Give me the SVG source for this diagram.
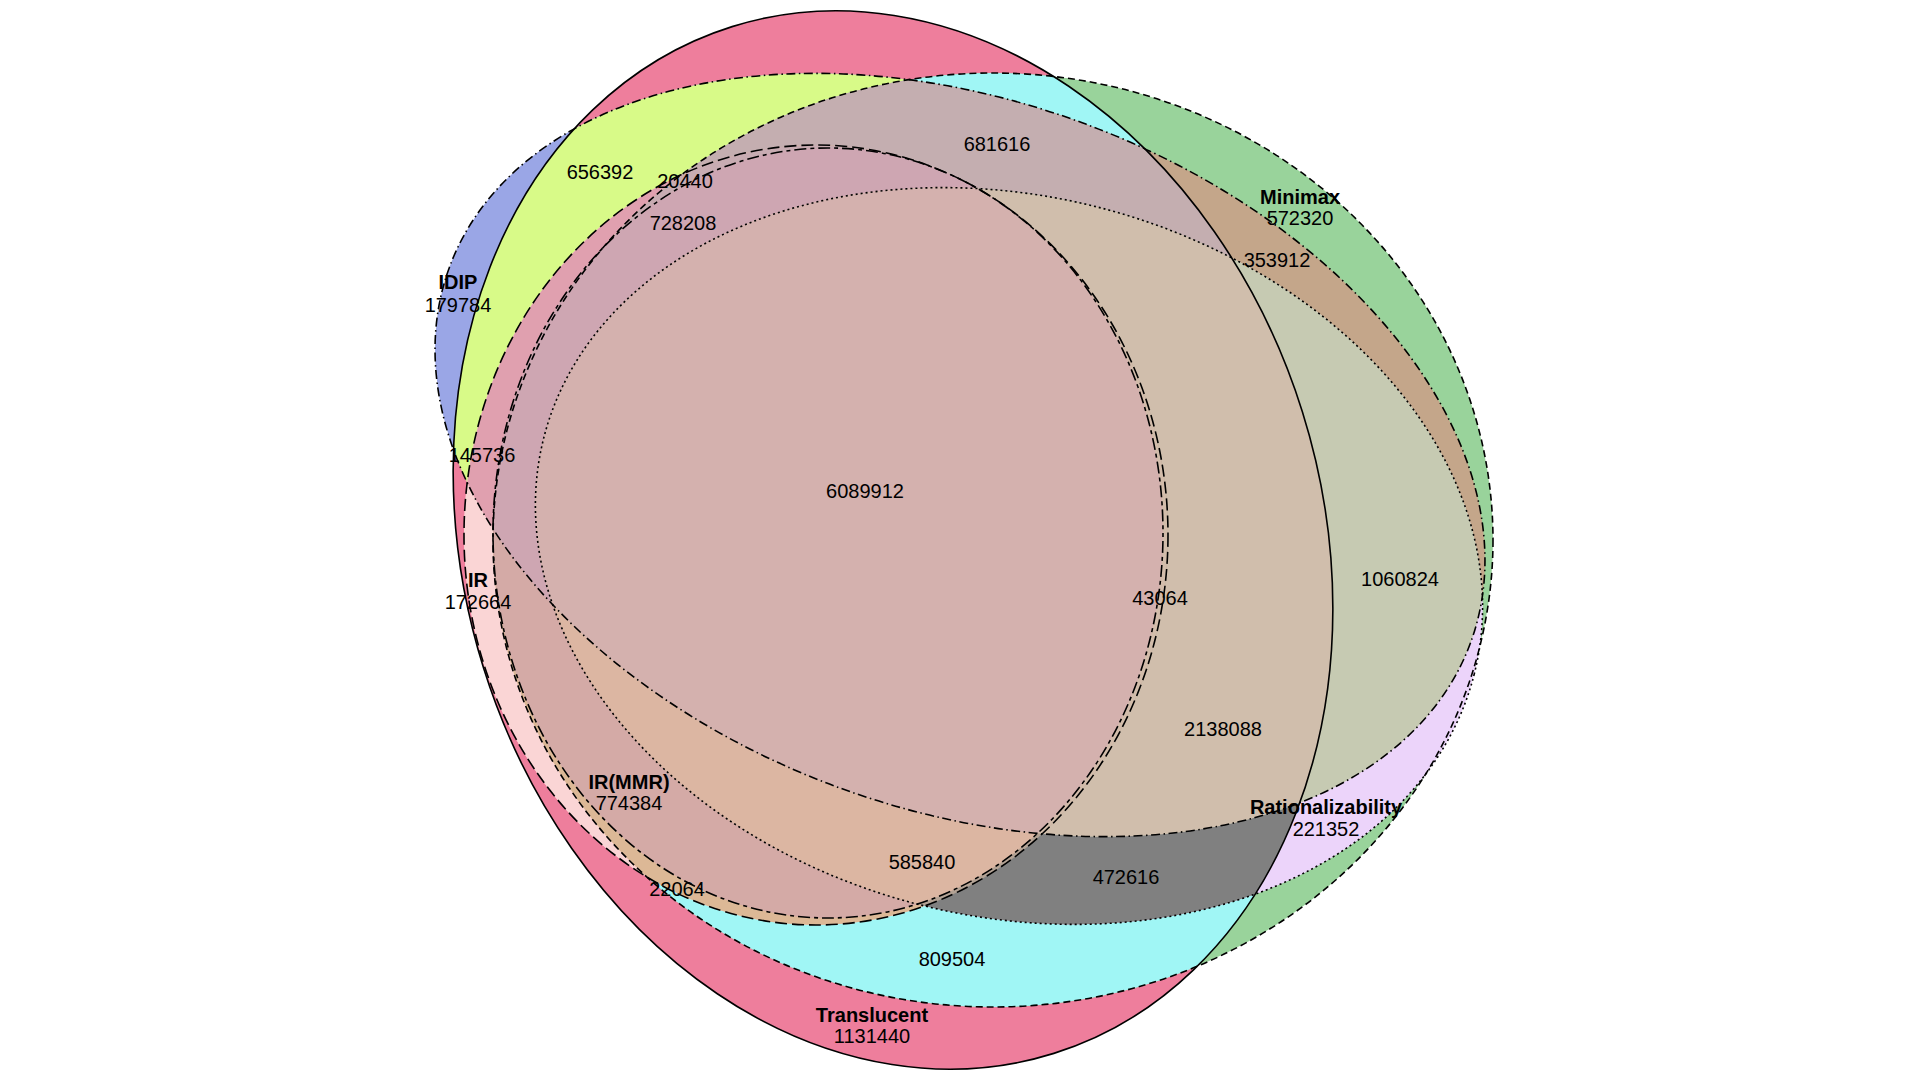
<svg xmlns="http://www.w3.org/2000/svg" width="1920" height="1080" viewBox="0 0 1920 1080">
<defs>
<style>
text{font-family:"Liberation Sans",Arial,sans-serif;font-size:20px;fill:#000;text-anchor:middle}
.b{font-weight:bold}
.o{fill:none;stroke:#000;stroke-width:1.6}
.dP{stroke-dasharray:9 3.5 1.5 3.5}
.dQ{stroke-dasharray:7 4}
.dR{stroke-dasharray:2 3}
.dB{stroke-dasharray:12 5}
.dA{stroke-dasharray:4 4 12 4}
</style>
<clipPath id="cT"><ellipse cx="893" cy="540" rx="429" ry="538" transform="rotate(-17.4 893 540)"/></clipPath>
<clipPath id="cP"><ellipse cx="960" cy="455" rx="544" ry="354" transform="rotate(20.2 960 455)"/></clipPath>
<clipPath id="cQ"><ellipse cx="993" cy="540" rx="500" ry="467"/></clipPath>
<clipPath id="cB"><ellipse cx="816" cy="535" rx="352" ry="390"/></clipPath>
<clipPath id="cA"><ellipse cx="828" cy="533" rx="335" ry="385"/></clipPath>
<clipPath id="cR"><ellipse cx="1009" cy="556" rx="480" ry="360" transform="rotate(14.25 1009 556)"/></clipPath>
<rect id="full" width="1920" height="1080"/>
</defs>
<rect width="1920" height="1080" fill="#ffffff"/>
<g id="regions">
<g clip-path="url(#cT)"><use href="#full" fill="#EE7E9C"/></g>
<g clip-path="url(#cP)"><use href="#full" fill="#9AA6E6"/></g>
<g clip-path="url(#cQ)"><use href="#full" fill="#99D39B"/></g>
<g clip-path="url(#cB)"><use href="#full" fill="#FAD5D5"/></g>
<g clip-path="url(#cR)"><use href="#full" fill="#ECD4FA"/></g>
<g clip-path="url(#cT)"><g clip-path="url(#cP)"><use href="#full" fill="#D8FA88"/></g></g>
<g clip-path="url(#cT)"><g clip-path="url(#cQ)"><use href="#full" fill="#A0F6F5"/></g></g>
<g clip-path="url(#cT)"><g clip-path="url(#cB)"><use href="#full" fill="#FAD5D5"/></g></g>
<g clip-path="url(#cP)"><g clip-path="url(#cQ)"><use href="#full" fill="#C4A68A"/></g></g>
<g clip-path="url(#cQ)"><g clip-path="url(#cR)"><use href="#full" fill="#ECD4FA"/></g></g>
<g clip-path="url(#cP)"><g clip-path="url(#cR)"><use href="#full" fill="#C6CAB2"/></g></g>
<g clip-path="url(#cT)"><g clip-path="url(#cP)"><g clip-path="url(#cB)"><use href="#full" fill="#E0A0AF"/></g></g></g>
<g clip-path="url(#cT)"><g clip-path="url(#cP)"><g clip-path="url(#cQ)"><use href="#full" fill="#C4AEB0"/></g></g></g>
<g clip-path="url(#cT)"><g clip-path="url(#cQ)"><g clip-path="url(#cB)"><use href="#full" fill="#DCB896"/></g></g></g>
<g clip-path="url(#cT)"><g clip-path="url(#cQ)"><g clip-path="url(#cR)"><use href="#full" fill="#808080"/></g></g></g>
<g clip-path="url(#cP)"><g clip-path="url(#cQ)"><g clip-path="url(#cR)"><use href="#full" fill="#C6CAB2"/></g></g></g>
<g clip-path="url(#cT)"><g clip-path="url(#cB)"><g clip-path="url(#cA)"><use href="#full" fill="#D4AAA6"/></g></g></g>
<g clip-path="url(#cT)"><g clip-path="url(#cP)"><g clip-path="url(#cQ)"><g clip-path="url(#cB)"><use href="#full" fill="#C8ACB2"/></g></g></g></g>
<g clip-path="url(#cT)"><g clip-path="url(#cP)"><g clip-path="url(#cQ)"><g clip-path="url(#cR)"><use href="#full" fill="#D0BEAC"/></g></g></g></g>
<g clip-path="url(#cT)"><g clip-path="url(#cQ)"><g clip-path="url(#cB)"><g clip-path="url(#cA)"><use href="#full" fill="#D4AAA6"/></g></g></g></g>
<g clip-path="url(#cT)"><g clip-path="url(#cP)"><g clip-path="url(#cB)"><g clip-path="url(#cA)"><use href="#full" fill="#CEA6B2"/></g></g></g></g>
<g clip-path="url(#cT)"><g clip-path="url(#cQ)"><g clip-path="url(#cB)"><g clip-path="url(#cR)"><use href="#full" fill="#B3A294"/></g></g></g></g>
<g clip-path="url(#cT)"><g clip-path="url(#cP)"><g clip-path="url(#cQ)"><g clip-path="url(#cB)"><g clip-path="url(#cA)"><use href="#full" fill="#CEA6B2"/></g></g></g></g></g>
<g clip-path="url(#cT)"><g clip-path="url(#cQ)"><g clip-path="url(#cB)"><g clip-path="url(#cA)"><g clip-path="url(#cR)"><use href="#full" fill="#DCB6A2"/></g></g></g></g></g>
<g clip-path="url(#cT)"><g clip-path="url(#cP)"><g clip-path="url(#cQ)"><g clip-path="url(#cB)"><g clip-path="url(#cR)"><use href="#full" fill="#D2BCAA"/></g></g></g></g></g>
<g clip-path="url(#cT)"><g clip-path="url(#cP)"><g clip-path="url(#cQ)"><g clip-path="url(#cB)"><g clip-path="url(#cA)"><g clip-path="url(#cR)"><use href="#full" fill="#D4B1AE"/></g></g></g></g></g></g>
</g>
<g id="set-translucent">
<ellipse class="o" cx="893" cy="540" rx="429" ry="538" transform="rotate(-17.4 893 540)"/>
<text class="b" x="872" y="1022">Translucent</text>
<text x="872" y="1043">1131440</text>
</g>
<g id="set-idip">
<ellipse class="o dP" cx="960" cy="455" rx="544" ry="354" transform="rotate(20.2 960 455)"/>
<text class="b" x="458" y="289">IDIP</text>
<text x="458" y="312">179784</text>
</g>
<g id="set-minimax">
<ellipse class="o dQ" cx="993" cy="540" rx="500" ry="467"/>
<text class="b" x="1300" y="204">Minimax</text>
<text x="1300" y="225">572320</text>
</g>
<g id="set-ir">
<ellipse class="o dB" cx="816" cy="535" rx="352" ry="390"/>
<text class="b" x="478" y="587">IR</text>
<text x="478" y="609">172664</text>
</g>
<g id="set-irmmr">
<ellipse class="o dA" cx="828" cy="533" rx="335" ry="385"/>
<text class="b" x="629" y="789">IR(MMR)</text>
<text x="629" y="810">774384</text>
</g>
<g id="set-rationalizability">
<ellipse class="o dR" cx="1009" cy="556" rx="480" ry="360" transform="rotate(14.25 1009 556)"/>
<text class="b" x="1326" y="814">Rationalizability</text>
<text x="1326" y="836">221352</text>
</g>
<g id="region-counts">
<text x="600" y="179">656392</text>
<text x="685" y="188">20440</text>
<text x="683" y="230">728208</text>
<text x="997" y="151">681616</text>
<text x="1277" y="267">353912</text>
<text x="482" y="462">145736</text>
<text x="865" y="498">6089912</text>
<text x="1160" y="605">43064</text>
<text x="1400" y="586">1060824</text>
<text x="1223" y="736">2138088</text>
<text x="922" y="869">585840</text>
<text x="1126" y="884">472616</text>
<text x="677" y="896">22064</text>
<text x="952" y="966">809504</text>
</g>
</svg>
